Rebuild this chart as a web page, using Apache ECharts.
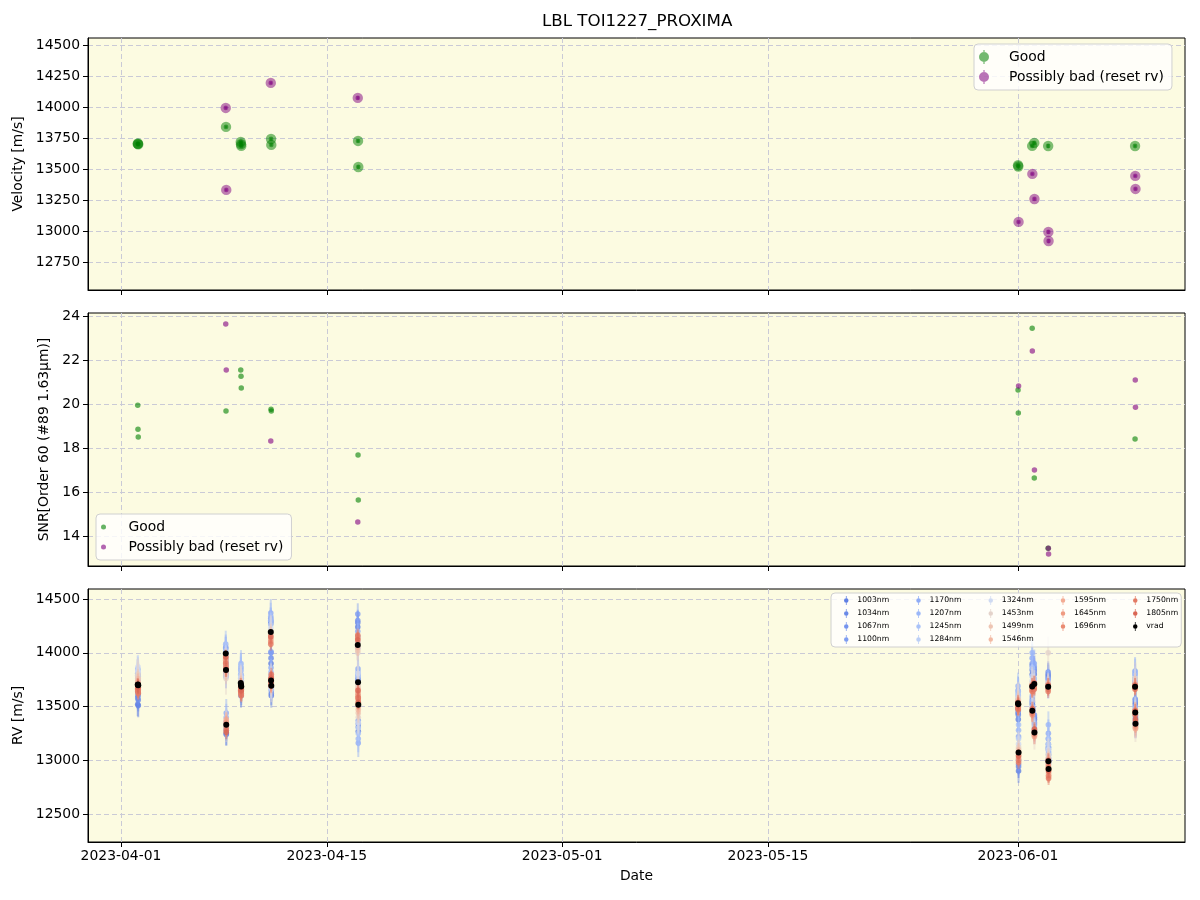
<!DOCTYPE html>
<html><head><meta charset="utf-8">
<script src="https://cdn.jsdelivr.net/npm/echarts@6/dist/echarts.min.js"></script>
<style>html,body{margin:0;padding:0;background:#fff}#c{width:1200px;height:900px}</style>
</head><body><div id="c"></div>
<script>
// ---------------- data ----------------
const obsTimes = ['2023-04-02T03:20','2023-04-02T03:45','2023-04-02T04:10',
  '2023-04-08T03:00','2023-04-08T03:25','2023-04-08T03:50',
  '2023-04-09T03:30','2023-04-09T03:55','2023-04-09T04:20',
  '2023-04-11T04:30','2023-04-11T04:55','2023-04-11T05:20',
  '2023-04-17T02:30','2023-04-17T02:55','2023-04-17T03:20',
  '2023-06-01T00:10','2023-06-01T00:35','2023-06-01T01:00',
  '2023-06-01T23:15','2023-06-01T23:30','2023-06-02T02:40','2023-06-02T02:55',
  '2023-06-03T01:20','2023-06-03T01:40','2023-06-03T02:00',
  '2023-06-08T23:10','2023-06-08T23:30','2023-06-08T23:50'];
const quality = ['g','g','g','p','g','p','g','g','g','p','g','g','p','g','g','g','g','p','g','p','g','p','g','p','p','g','p','p'];
const velocity = [13702,13705,13698,13992,13839,13331,13718,13700,13686,14194,13742,13694,14073,13726,13516,13530,13520,13073,13686,13460,13710,13258,13685,12992,12919,13685,13444,13339];
const velErr = [10,11,10,12,11,12,10,10,11,12,11,11,14,13,14,11,12,12,10,11,13,13,16,16,17,12,11,12];
const snr = [19.95,18.86,18.5,23.64,19.68,21.55,21.55,21.27,20.73,18.32,19.77,19.68,14.64,17.68,15.64,20.64,19.59,20.82,23.45,22.41,16.64,17.0,13.45,13.45,13.18,18.41,21.09,19.86];

const wavelengths = ['1003nm','1034nm','1067nm','1100nm','1170nm','1207nm','1245nm','1284nm','1324nm','1453nm','1499nm','1546nm','1595nm','1645nm','1696nm','1750nm','1805nm'];
const waveColors = ['#5f7fe4','#6a8ae8','#7594ee','#7f9df1','#8eabf6','#9bb7f8','#a9c2f8','#bccff6','#cfdaf2','#e4d3cb','#eec5b3','#f2b9a3','#f3ab93','#ef9b82','#ea8b72','#e37a64','#da6654'];
const waveErr = [110,105,100,100,130,125,120,115,110,150,90,80,70,65,60,60,65];
// RV per observation (rows) and per wavelength (columns, order of `wavelengths`)
const rvByObs = [
 [13520,13580,13640,13690,13810,13850,13790,13760,13830,13780,13740,13720,13690,13670,13650,13660,13700],
 [13600,13650,13700,13740,13760,13800,13840,13720,13870,13800,13760,13730,13710,13680,13660,13640,13690],
 [13510,13560,13620,13660,13700,13750,13780,13740,13820,13760,13720,13700,13680,13650,13630,13620,13680],
 [13960,13940,14000,14050,14040,14080,14020,13990,13960,13900,13930,13950,13960,13930,13910,13900,13960],
 [13780,13810,13850,13880,13900,13920,13860,13820,13780,13760,13800,13830,13850,13880,13870,13850,13840],
 [13250,13240,13280,13300,13440,13400,13360,13330,13350,13320,13340,13360,13380,13350,13300,13280,13260],
 [13650,13680,13720,13760,13800,13840,13880,13790,13770,13740,13720,13700,13680,13660,13650,13640,13700],
 [13600,13640,13690,13720,13860,13900,13830,13760,13740,13720,13700,13690,13670,13650,13630,13620,13680],
 [13620,13660,13700,13740,13760,13790,13740,13720,13700,13690,13680,13660,13640,13620,13610,13600,13650],
 [14270,14290,14300,14320,14370,14340,14300,14260,14230,14200,14180,14160,14140,14120,14100,14080,14150],
 [13900,13950,14000,14010,13860,13820,13790,13760,13740,13750,13730,13720,13700,13690,13700,13720,13760],
 [13600,13620,13650,13680,13720,13700,13690,13660,13680,13690,13700,13720,13740,13760,13780,13800,13760],
 [14240,14280,14300,14360,14200,14150,14100,14050,14040,14000,14020,14050,14100,14130,14150,14165,14120],
 [13740,13760,13780,13800,13850,13820,13800,13780,13810,13700,13680,13660,13640,13620,13600,13580,13650],
 [13270,13310,13340,13370,13160,13200,13250,13300,13350,13400,13440,13470,13500,13530,13560,13580,13540],
 [13440,13480,13520,13560,13650,13690,13620,13600,13560,13580,13560,13540,13520,13500,13490,13480,13540],
 [13380,13420,13460,13500,13560,13600,13640,13580,13540,13560,13550,13530,13510,13490,13480,13470,13520],
 [12900,12940,12960,13000,13220,13280,13330,13200,13150,13120,13100,13080,13050,13020,13000,12980,13040],
 [13800,13840,13880,13900,13950,14000,13860,13780,13740,13720,13700,13690,13680,13660,13650,13640,13700],
 [13520,13540,13560,13580,13600,13550,13500,13480,13470,13460,13450,13440,13430,13420,13440,13460,13480],
 [13800,13830,13850,13870,13900,13760,13740,13720,13700,13690,13700,13710,13700,13680,13670,13660,13720],
 [13380,13400,13420,13350,13330,13300,13280,13270,13260,13250,13240,13230,13220,13240,13260,13280,13290],
 [13780,13800,13820,13760,13750,13720,13700,13690,13680,14000,13720,13700,13690,13670,13660,13640,13700],
 [13100,13120,13150,13200,13250,13330,13200,13150,13100,13050,13020,13000,12980,12960,12940,12920,13000],
 [12980,13000,13020,13050,13080,13120,13060,13000,12960,12940,12920,12900,12880,12860,12850,12830,12900],
 [13720,13740,13760,13800,13830,13820,13790,13760,13740,13760,13720,13700,13690,13680,13670,13660,13700],
 [13520,13540,13560,13570,13500,13480,13470,13460,13450,13440,13450,13460,13470,13440,13430,13420,13460],
 [13420,13400,13380,13360,13350,13340,13330,13320,13310,13320,13300,13290,13300,13320,13340,13360,13380]
];
const dateTicks = ['2023-04-01T00:00','2023-04-15T00:00','2023-05-01T00:00','2023-05-15T00:00','2023-06-01T00:00'];
const xRange = ['2023-03-29T18:10','2023-06-12T08:40'];
const velTicks = [12750,13000,13250,13500,13750,14000,14250,14500];
const velRange = [12524,14556];
const snrTicks = [14,16,18,20,22,24];
const snrRange = [12.64,24.14];
const rvTicks = [12500,13000,13500,14000,14500];
const rvRange = [12240,14593];
const legendOrder3 = ['1003nm','1170nm','1324nm','1595nm','1750nm',
                      '1034nm','1207nm','1453nm','1645nm','1805nm',
                      '1067nm','1245nm','1499nm','1696nm','vrad',
                      '1100nm','1284nm','1546nm'];
const labelGood = 'Good', labelBad = 'Possibly bad (reset rv)';

// ---------------- build ----------------
const ts = s => new Date(s).getTime();
const tObs = obsTimes.map(ts);
const tTicks = dateTicks.map(ts);
const FONT = 'DejaVu Sans';
const GREEN = '#008000', PURPLE = '#800080';

function errRender(color, r, lw, mOp, lOp, innerR) {
  return function (params, api) {
    const x = api.value(0), y = api.value(1), e = api.value(2);
    const p = api.coord([x, y]);
    const t = api.coord([x, y + e]);
    const b = api.coord([x, y - e]);
    const ch = [
      {type: 'line', shape: {x1: p[0], y1: t[1], x2: p[0], y2: b[1]}, style: {stroke: color, lineWidth: lw, opacity: lOp}},
      {type: 'circle', shape: {cx: p[0], cy: p[1], r: r}, style: {fill: color, opacity: mOp}}
    ];
    if (innerR) ch.push({type: 'circle', shape: {cx: p[0], cy: p[1], r: innerR}, style: {fill: color, opacity: mOp}});
    return {type: 'group', children: ch};
  };
}

const grids = [
  {left: 88, top: 38, width: 1097, height: 252},
  {left: 88, top: 313, width: 1097, height: 253},
  {left: 88, top: 589, width: 1097, height: 253}
].map(g => Object.assign(g, {show: true, backgroundColor: '#fcfbe1', borderColor: '#000', borderWidth: 1, containLabel: false}));

const splitLine = {show: true, lineStyle: {color: '#cacad6', width: 1, type: [5, 3]}};
const axisLineBlack = {show: true, onZero: false, lineStyle: {color: '#000', width: 1}};
const pad2 = n => (n < 10 ? '0' : '') + n;
const fmtDate = v => { const d = new Date(v); return d.getFullYear() + '-' + pad2(d.getMonth() + 1) + '-' + pad2(d.getDate()); };

const xAxes = [0, 1, 2].map(i => ({
  type: 'value', gridIndex: i, min: ts(xRange[0]), max: ts(xRange[1]), scale: true,
  axisLine: axisLineBlack,
  axisTick: {show: true, length: 5, lineStyle: {color: '#000'}, customValues: tTicks},
  axisLabel: {show: i === 2, customValues: tTicks, formatter: fmtDate, color: '#000', fontFamily: FONT, fontSize: 13.9, margin: 7},
  splitLine: splitLine,
  name: i === 2 ? 'Date' : '', nameLocation: 'middle', nameGap: 27,
  nameTextStyle: {color: '#000', fontFamily: FONT, fontSize: 13.9}
}));

function yAxis(i, range, ticks, name, gap) {
  return {
    type: 'value', gridIndex: i, min: range[0], max: range[1], scale: true,
    axisLine: axisLineBlack,
    axisTick: {show: true, length: 5, lineStyle: {color: '#000'}, customValues: ticks},
    axisLabel: {customValues: ticks, formatter: v => String(v), color: '#000', fontFamily: FONT, fontSize: 13.9, margin: 8},
    splitLine: splitLine,
    name: name, nameLocation: 'middle', nameGap: gap, nameRotate: 90,
    nameTextStyle: {color: '#000', fontFamily: FONT, fontSize: 13.9}
  };
}
const yAxes = [
  yAxis(0, velRange, velTicks, 'Velocity [m/s]', 52),
  yAxis(1, snrRange, snrTicks, 'SNR[Order 60 (#89 1.63μm)]', 36),
  yAxis(2, rvRange, rvTicks, 'RV [m/s]', 52)
];

const idxGood = quality.map((q, i) => q === 'g' ? i : -1).filter(i => i >= 0);
const idxBad = quality.map((q, i) => q === 'p' ? i : -1).filter(i => i >= 0);

const series = [];
// panel 1
[[labelGood, idxGood, GREEN], [labelBad, idxBad, PURPLE]].forEach(([nm, idx, col]) => {
  series.push({
    type: 'custom', name: nm, xAxisIndex: 0, yAxisIndex: 0,
    itemStyle: {color: col, opacity: 0.55},
    renderItem: errRender(col, 5.2, 2.5, 0.5, 0.5, 2.4),
    encode: {x: 0, y: 1},
    data: idx.map(i => [tObs[i], velocity[i], velErr[i]])
  });
});
// panel 2
[[labelGood, idxGood, GREEN], [labelBad, idxBad, PURPLE]].forEach(([nm, idx, col]) => {
  series.push({
    type: 'scatter', name: nm, xAxisIndex: 1, yAxisIndex: 1,
    symbol: 'circle', symbolSize: 5.5,
    itemStyle: {color: col, opacity: 0.6},
    data: idx.map(i => [tObs[i], snr[i]])
  });
});
// panel 3
wavelengths.forEach((w, k) => {
  series.push({
    type: 'custom', name: w, xAxisIndex: 2, yAxisIndex: 2,
    itemStyle: {color: waveColors[k]},
    renderItem: errRender(waveColors[k], 2.8, 2, 0.8, 0.45, 0),
    encode: {x: 0, y: 1},
    data: tObs.map((t, i) => [t, rvByObs[i][k], waveErr[k]])
  });
});
series.push({
  type: 'custom', name: 'vrad', xAxisIndex: 2, yAxisIndex: 2,
  itemStyle: {color: '#000'},
  renderItem: errRender('#000', 3, 1.5, 1, 1, 0),
  encode: {x: 0, y: 1},
  data: tObs.map((t, i) => [t, velocity[i], velErr[i]])
});

const ebIcon = 'path://M4.4,0H5.6V14H4.4Z M0,7A5,5,0,1,1,10,7A5,5,0,1,1,0,7Z';
const ebIconSmall = 'path://M2.6,0H3.4V10H2.6Z M0.5,5A2.5,2.5,0,1,1,5.5,5A2.5,2.5,0,1,1,0.5,5Z';
const legendText = {color: '#000', fontFamily: FONT, fontSize: 13.9, lineHeight: 16, padding: [0, 0, 0, 6]};
const legendBox = {backgroundColor: 'rgba(255,255,255,0.8)', borderColor: '#d0d0d0', borderWidth: 1, borderRadius: 4};

const legends = [
  Object.assign({
    orient: 'vertical', left: 974, top: 44, padding: [5, 8, 5, 5], itemGap: 4,
    itemWidth: 28, itemHeight: 14, textStyle: legendText,
    data: [
      {name: labelGood, icon: ebIcon, itemStyle: {color: GREEN, opacity: 0.55}},
      {name: labelBad, icon: ebIcon, itemStyle: {color: PURPLE, opacity: 0.55}}
    ]
  }, legendBox),
  Object.assign({
    orient: 'vertical', left: 96, top: 514, padding: [5, 8, 5, 5], itemGap: 4,
    itemWidth: 28, itemHeight: 5, textStyle: legendText,
    data: [
      {name: labelGood, icon: 'circle', itemStyle: {color: GREEN, opacity: 0.6}},
      {name: labelBad, icon: 'circle', itemStyle: {color: PURPLE, opacity: 0.6}}
    ]
  }, legendBox),
  Object.assign({
    orient: 'horizontal', left: 831, top: 593, width: 352, padding: [3, 3, 3, 13],
    itemGap: 4, itemWidth: 12, itemHeight: 9,
    textStyle: {color: '#000', fontFamily: FONT, fontSize: 7.7, lineHeight: 9, width: 55},
    data: legendOrder3.map(n => {
      const k = wavelengths.indexOf(n);
      const last = (n === '1750nm' || n === '1805nm' || n === 'vrad');
      const d = {name: n, icon: ebIconSmall, itemStyle: {color: k >= 0 ? waveColors[k] : '#000'}};
      if (last) d.textStyle = {width: 32};
      return d;
    })
  }, legendBox)
];

const chart = echarts.init(document.getElementById('c'), null, {renderer: 'canvas'});
chart.setOption({
  animation: false,
  backgroundColor: '#fff',
  title: {text: 'LBL TOI1227_PROXIMA', left: 542, top: 13, padding: 0,
          textStyle: {color: '#000', fontFamily: FONT, fontSize: 16.7, fontWeight: 'normal'}},
  grid: grids, xAxis: xAxes, yAxis: yAxes, legend: legends, series: series
});
</script></body></html>
